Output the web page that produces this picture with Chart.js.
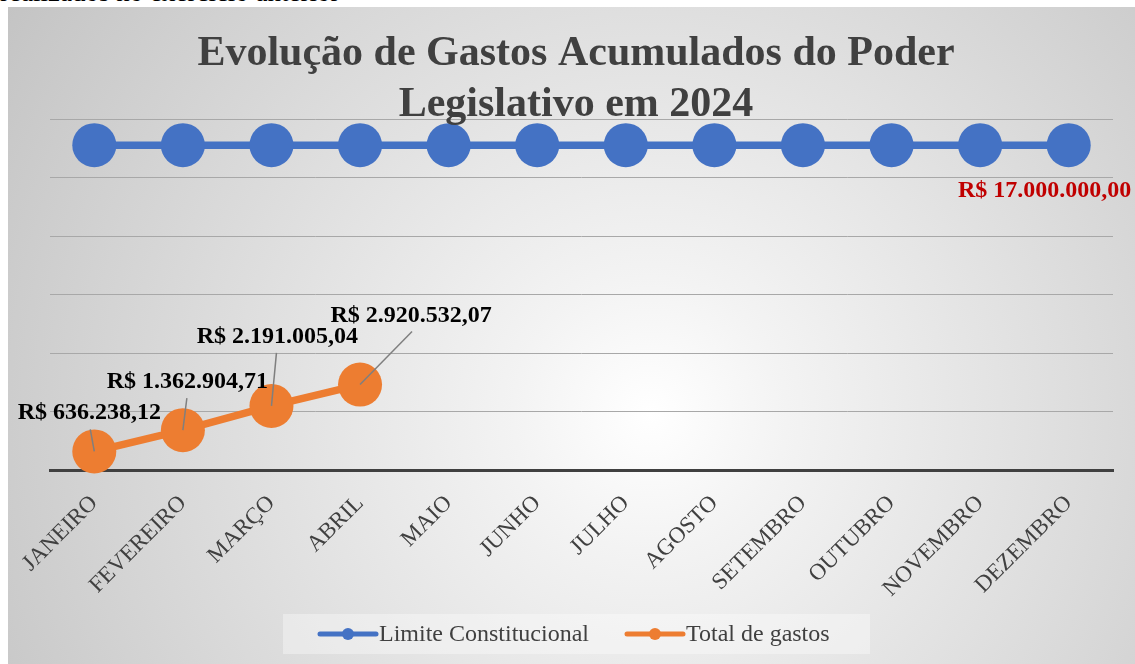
<!DOCTYPE html>
<html><head><meta charset="utf-8">
<script src="https://cdn.jsdelivr.net/npm/chart.js@4.4.1/dist/chart.umd.min.js"></script>
<style>
html,body{margin:0;padding:0;background:#fff;width:1135px;height:664px;overflow:hidden;position:relative;font-family:"Liberation Serif","Times New Roman",serif;}
#doc{position:absolute;left:0;top:-21px;font-size:27px;line-height:1;white-space:nowrap;color:#000;}
#box{position:absolute;left:8px;top:7px;width:1127px;height:657px;background:radial-gradient(circle farthest-corner at 57% 62%, #ffffff 0%, #f3f3f3 18%, #c4c4c4 100%);}
canvas{position:absolute;left:0;top:0;}
</style></head>
<body>
<div id="doc">realizados no exercício anterior</div>
<div id="box"><canvas id="c" width="1127" height="657"></canvas></div>
<script>
const months = ["JANEIRO","FEVEREIRO","MARÇO","ABRIL","MAIO","JUNHO","JULHO","AGOSTO","SETEMBRO","OUTUBRO","NOVEMBRO","DEZEMBRO"];
const limiteConstitucional = [17000000,17000000,17000000,17000000,17000000,17000000,17000000,17000000,17000000,17000000,17000000,17000000];
const totalGastos = [636238.12,1362904.71,2191005.04,2920532.07,null,null,null,null,null,null,null,null];
const seriesNames = ["Limite Constitucional","Total de gastos"];
const titleLines = ["Evolução de Gastos Acumulados do Poder","Legislativo em 2024"];
const yMax = 12000000, yStep = 2000000;

// label placement (style, not data): text centre dx, baseline dy, leader end dx, dy
const orangeLabelPos = [
  {tx:-5, ty:-32, lx:-4, ly:-22},
  {tx:4.5, ty:-42, lx:4, ly:-32},
  {tx:6, ty:-63, lx:5, ly:-53},
  {tx:51, ty:-63, lx:52, ly:-53}
];
const blueLabelPos = {index:11, tx:-24, ty:52};

const BLUE = "#4472C4", ORANGE = "#ED7D31", TXT = "#404040";
const SERIF = '"Liberation Serif","Times New Roman",serif';

function brl(v){
  const parts = v.toFixed(2).split(".");
  const int = parts[0].replace(/\B(?=(\d{3})+(?!\d))/g, ".");
  return "R$ " + int + "," + parts[1];
}

const overlay = {
  id: "overlay",
  afterDraw(chart){
    const ctx = chart.ctx;
    ctx.save();
    ctx.fillStyle = TXT;
    ctx.font = "bold 42px " + SERIF;
    ctx.textAlign = "center";
    ctx.textBaseline = "alphabetic";
    ctx.fillText(titleLines[0], 568, 58);
    ctx.fillText(titleLines[1], 568, 109);

    const m1 = chart.getDatasetMeta(1);
    ctx.font = "bold 24px " + SERIF;
    totalGastos.forEach((v,i)=>{
      if (v == null) return;
      const p = m1.data[i], o = orangeLabelPos[i];
      ctx.strokeStyle = "#7f7f7f"; ctx.lineWidth = 1.5;
      ctx.beginPath(); ctx.moveTo(p.x, p.y); ctx.lineTo(p.x + o.lx, p.y + o.ly); ctx.stroke();
      ctx.fillStyle = "#000";
      ctx.fillText(brl(v), p.x + o.tx, p.y + o.ty);
    });
    const m0 = chart.getDatasetMeta(0);
    const bp = m0.data[blueLabelPos.index];
    ctx.fillStyle = "#C00000";
    ctx.fillText(brl(limiteConstitucional[blueLabelPos.index]), bp.x + blueLabelPos.tx, bp.y + blueLabelPos.ty);

    ctx.fillStyle = "rgba(255,255,255,0.35)";
    ctx.fillRect(275, 607, 587, 40);
    const items = [{c:BLUE, x:312, name:seriesNames[0]},{c:ORANGE, x:619, name:seriesNames[1]}];
    const ly = 627;
    items.forEach(it=>{
      ctx.strokeStyle = it.c; ctx.lineWidth = 5; ctx.lineCap = "round";
      ctx.beginPath(); ctx.moveTo(it.x, ly); ctx.lineTo(it.x + 56, ly); ctx.stroke();
      ctx.fillStyle = it.c;
      ctx.beginPath(); ctx.arc(it.x + 28, ly, 6, 0, Math.PI*2); ctx.fill();
      ctx.fillStyle = TXT; ctx.font = "24px " + SERIF;
      ctx.textAlign = "left"; ctx.textBaseline = "middle";
      ctx.fillText(it.name, it.x + 59, ly + 1);
    });
    ctx.restore();
  }
};

new Chart(document.getElementById("c"), {
  type: "line",
  data: {
    labels: months,
    datasets: [
      {label: seriesNames[0], data: limiteConstitucional, yAxisID: "y2", borderColor: BLUE, backgroundColor: BLUE,
       borderWidth: 7.5, pointRadius: 22, pointHoverRadius: 22, pointBackgroundColor: BLUE, pointBorderWidth: 0, clip: false},
      {label: seriesNames[1], data: totalGastos, yAxisID: "y", borderColor: ORANGE, backgroundColor: ORANGE,
       borderWidth: 7.5, pointRadius: 22, pointHoverRadius: 22, pointBackgroundColor: ORANGE, pointBorderWidth: 0, clip: false}
    ]
  },
  options: {
    responsive: false, animation: false, devicePixelRatio: 1,
    layout: {padding: {left: 42, right: 22, top: 112, bottom: 0}},
    plugins: {legend: {display: false}, title: {display: false}, tooltip: {enabled: false}},
    scales: {
      x: {
        offset: true,
        grid: {display: false, drawTicks: false, offset: true},
        border: {display: true, color: "#404040", width: 3},
        ticks: {color: TXT, font: {family: SERIF, size: 23}, maxRotation: 45, minRotation: 45, padding: 20, autoSkip: false},
        afterFit(s){ s.height = 194; s.paddingLeft = 0; s.paddingRight = 0; }
      },
      y: {
        min: 0, max: yMax,
        ticks: {display: false, stepSize: yStep},
        grid: {color: "#a8a8a8", lineWidth: 1, drawTicks: false},
        border: {display: false},
        afterFit(s){ s.width = 0; s.paddingTop = 0; s.paddingBottom = 0; }
      },
      y2: {
        position: "right", min: 0, max: 18370000,
        display: true,
        ticks: {display: false},
        grid: {display: false, drawTicks: false},
        border: {display: false},
        afterFit(s){ s.width = 0; s.paddingTop = 0; s.paddingBottom = 0; }
      }
    }
  },
  plugins: [overlay]
});
</script>
</body></html>
